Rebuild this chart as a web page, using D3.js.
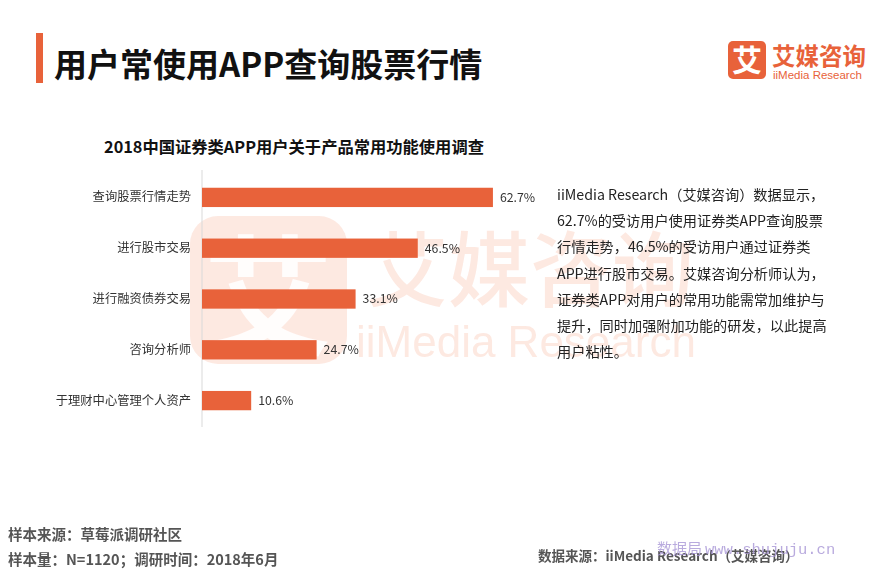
<!DOCTYPE html>
<html><head><meta charset="utf-8">
<script src="https://cdn.jsdelivr.net/npm/d3@7"></script>
<style>
html,body{margin:0;padding:0;background:#fff;}
svg{display:block;font-family:"Noto Sans CJK SC","Noto Sans",sans-serif;}
</style></head>
<body>
<svg id="chart" width="885" height="576"></svg>
<script>
const categories = ["查询股票行情走势","进行股市交易","进行融资债券交易","咨询分析师","于理财中心管理个人资产"];
const values = [62.7, 46.5, 33.1, 24.7, 10.6];
const valueLabels = ["62.7%","46.5%","33.1%","24.7%","10.6%"];
const mainTitle = "用户常使用APP查询股票行情";
const chartTitle = "2018中国证券类APP用户关于产品常用功能使用调查";
const paragraph = [
  "iiMedia Research（艾媒咨询）数据显示，",
  "62.7%的受访用户使用证券类APP查询股票",
  "行情走势，46.5%的受访用户通过证券类",
  "APP进行股市交易。艾媒咨询分析师认为，",
  "证券类APP对用户的常用功能需常加维护与",
  "提升，同时加强附加功能的研发，以此提高",
  "用户粘性。"
];
const footLeft = ["样本来源：草莓派调研社区","样本量：N=1120；调研时间：2018年6月"];
const footRight = "数据来源：iiMedia Research（艾媒咨询）";

const orange = "#e8623a";
const svg = d3.select("#chart");

// background watermark
const wm = svg.append("g").attr("opacity", 0.15);
wm.append("rect").attr("x",190).attr("y",216).attr("width",157).attr("height",148).attr("rx",28).attr("fill","#f26b3a");
wm.append("text").attr("x",268).attr("y",345).attr("text-anchor","middle").attr("font-size",130).attr("font-weight",700).attr("fill","#fff").attr("opacity",0.9).text("艾");
wm.append("text").attr("x",366).attr("y",300).attr("font-size",82).attr("font-weight",500).attr("fill","#f26b3a").text("艾媒咨询");
wm.append("text").attr("x",356).attr("y",357).attr("font-size",44).attr("font-family","Liberation Sans, Arial, sans-serif").attr("fill","#f26b3a").text("iiMedia Research");

// title bar
svg.append("rect").attr("x",36).attr("y",33).attr("width",7).attr("height",50).attr("fill",orange);
svg.append("text").attr("x",54).attr("y",77).attr("font-size",33).attr("font-weight",700).attr("fill","#111").text(mainTitle);

// logo
svg.append("rect").attr("x",728).attr("y",41).attr("width",38).attr("height",38).attr("rx",5).attr("fill",orange);
svg.append("text").attr("x",747).attr("y",71).attr("text-anchor","middle").attr("font-size",30).attr("font-weight",700).attr("fill","#fff").text("艾");
svg.append("text").attr("x",772).attr("y",65).attr("font-size",23.5).attr("font-weight",700).attr("fill",orange).text("艾媒咨询");
svg.append("text").attr("x",773).attr("y",79).attr("font-size",11.5).attr("font-family","Liberation Sans, Arial, sans-serif").attr("fill",orange).text("iiMedia Research");

// chart title
svg.append("text").attr("x",294).attr("y",153).attr("text-anchor","middle").attr("font-size",16.3).attr("font-weight",700).attr("fill","#111").text(chartTitle);

// scales
const x = d3.scaleLinear().domain([0, 100]).range([202, 666]);
const y = d3.scaleBand().domain(categories).range([172, 426]).paddingInner(0.62).paddingOuter(0.31);

// axis line
const yAxis = d3.axisLeft(y).tickSize(0).tickPadding(11);
const ag = svg.append("g").attr("transform","translate(202,0)").call(yAxis);
ag.select(".domain").attr("stroke","#d9d9d9").attr("d","M0,170V427");
ag.selectAll("text").attr("font-size",12.3).attr("fill","#333").attr("font-family","\"Noto Sans CJK SC\",sans-serif");

// bars
svg.append("g").selectAll("rect").data(values).join("rect")
  .attr("x", x(0)).attr("y",(d,i)=>y(categories[i]))
  .attr("width", d=>x(d)-x(0)).attr("height", y.bandwidth())
  .attr("fill", orange);
svg.append("g").selectAll("text").data(values).join("text")
  .attr("x", d=>x(d)+7).attr("y",(d,i)=>y(categories[i])+y.bandwidth()/2)
  .attr("dy","0.35em").attr("font-size",12.3).attr("fill","#333").text((d,i)=>valueLabels[i]);

// paragraph
svg.append("g").selectAll("text").data(paragraph).join("text")
  .attr("x",557).attr("y",(d,i)=>200+i*26.2)
  .attr("font-size",14.2).attr("fill","#222").text(d=>d);

// footer
svg.append("g").selectAll("text").data(footLeft).join("text")
  .attr("x",8).attr("y",(d,i)=>540+i*25).attr("font-size",14.5).attr("font-weight",700).attr("fill","#555").text(d=>d);
svg.append("text").attr("x",538).attr("y",561).attr("font-size",13.5).attr("font-weight",700).attr("fill","#555").text(footRight);
// site watermark
svg.append("text").attr("x",657).attr("y",554).attr("font-size",15).attr("fill","#a896d6").attr("opacity",0.8).text("数据局");
svg.append("text").attr("x",705).attr("y",554).attr("font-size",15.5).attr("font-family","Liberation Mono, DejaVu Sans Mono, monospace").attr("fill","#a896d6").attr("opacity",0.8).text("www.shujuju.cn");
</script>
</body></html>
